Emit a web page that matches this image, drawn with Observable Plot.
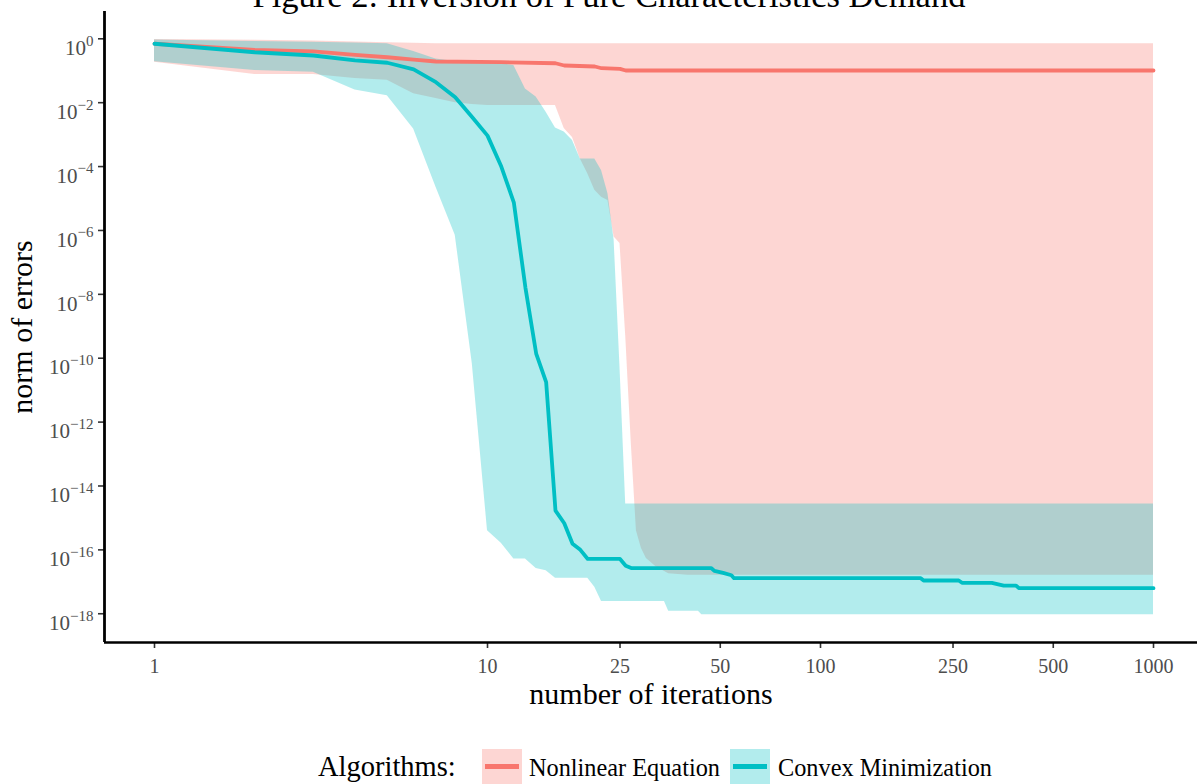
<!DOCTYPE html>
<html><head><meta charset="utf-8">
<script src="https://cdn.jsdelivr.net/npm/d3@7"></script>
<script src="https://cdn.jsdelivr.net/npm/@observablehq/plot@0.6"></script>
<style>
html,body{margin:0;padding:0;background:#fff;overflow:hidden;width:1197px;height:784px;position:relative;}
#title{position:absolute;left:0;top:-21.9px;width:1218px;text-align:center;font-family:"Liberation Serif",serif;font-size:34.5px;line-height:34.5px;white-space:nowrap;color:#000;}
#chart svg{display:block;}
#legend{position:relative;width:1197px;height:44px;font-family:"Liberation Serif",serif;color:#000;}
#legend .t{position:absolute;white-space:nowrap;line-height:1;}
#legend .key{position:absolute;top:9px;width:40px;height:35px;}
#legend .key i{position:absolute;left:3px;right:3px;top:15px;height:5px;display:block;}
</style></head>
<body>
<div id="title">Figure 2: Inversion of Pure Characteristics Demand</div>
<div id="chart"></div>
<div id="legend"></div>
<script>
// ---- data ----
const seriesNames = ["Nonlinear Equation", "Convex Minimization"];
const seriesColors = ["#F8766D", "#00BFC4"];
const legendTitle = "Algorithms:";

// Nonlinear Equation: median line
const nlIter   = [1,2,3,4,5,6,7,11,16,17,21,22,25,26,1000];
const nlMedian = [0.70,0.453,0.407,0.316,0.265,0.224,0.195,0.185,0.172,0.146,0.136,0.120,0.115,0.102,0.102];
// Nonlinear Equation: band
const nlBandIter = [1,2,3,4,5,6,7,8,9,10,16,17,18,19,20,21,22,23,24,25,26,27,28,29,30,32,35,40,1000];
const nlLower = [0.186,0.0759,0.0759,0.0575,0.050,0.019,0.0135,0.010,0.0087,0.0081,0.0081,1.55e-3,8.1e-4,1.74e-4,6.0e-5,1.8e-5,1.1e-5,8.7e-6,6.2e-7,3.9e-7,5.1e-10,2.6e-13,4.0e-16,1.1e-16,5.4e-17,3.0e-17,1.8e-17,1.6e-17,1.6e-17];
const nlUpper = [0.95,0.90,0.85,0.80,0.75,0.72,0.70,0.70,0.70,0.70,0.70,0.70,0.70,0.70,0.70,0.70,0.70,0.70,0.70,0.70,0.70,0.70,0.70,0.70,0.70,0.70,0.70,0.70,0.70];

// Convex Minimization: median line
const cmIter   = [1,2,3,4,5,6,7,8,9,10,11,12,13,14,15,16,17,18,19,20,25,26,27,47,48,51,54,55,200,204,260,266,327,355,386,395,1000];
const cmMedian = [0.70,0.38,0.30,0.21,0.178,0.11,0.044,0.0148,3.5e-3,9.3e-4,1.0e-4,7.4e-6,1.6e-8,1.4e-10,1.8e-11,1.7e-15,6.8e-16,1.55e-16,1.0e-16,5.2e-17,5.2e-17,3.2e-17,2.7e-17,2.7e-17,2.2e-17,1.9e-17,1.6e-17,1.3e-17,1.3e-17,1.1e-17,1.1e-17,9.3e-18,9.3e-18,7.6e-18,7.6e-18,6.3e-18,6.3e-18];
// Convex Minimization: band
const cmBandIter = [1,2,3,4,5,6,7,8,9,10,11,12,13,14,15,16,17,18,19,20,21,22,23,24,25,26,34,35,43,44,1000];
const cmLower = [0.19,0.102,0.089,0.025,0.0166,1.5e-3,2.3e-5,7.1e-7,6.8e-11,4.0e-16,1.6e-16,5.2e-17,5.2e-17,2.6e-17,2.2e-17,1.3e-17,1.3e-17,1.3e-17,1.3e-17,1.3e-17,6.8e-18,2.4e-18,2.4e-18,2.4e-18,2.4e-18,2.4e-18,2.4e-18,1.2e-18,1.2e-18,9.3e-19,9.3e-19];
const cmUpper = [0.92,0.82,0.78,0.74,0.70,0.40,0.234,0.195,0.186,0.174,0.166,0.145,0.027,0.0151,5.0e-3,1.6e-3,1.2e-3,6.6e-4,1.74e-4,1.74e-4,1.74e-4,7.6e-5,1.4e-5,5.0e-7,5.0e-11,2.75e-15,2.75e-15,2.75e-15,2.75e-15,2.75e-15,2.75e-15];

// axes
const xTicks = [1,10,25,50,100,250,500,1000];
const yTicks = [1e0,1e-2,1e-4,1e-6,1e-8,1e-10,1e-12,1e-14,1e-16,1e-18];
const xLabel = "number of iterations";
const yLabel = "norm of errors";

// ---- build tables ----
const nlLine = nlIter.map((n,i)=>({n, v:nlMedian[i]}));
const cmLine = cmIter.map((n,i)=>({n, v:cmMedian[i]}));
const nlBand = nlBandIter.map((n,i)=>({n, lo:nlLower[i], hi:nlUpper[i]}));
const cmBand = cmBandIter.map((n,i)=>({n, lo:cmLower[i], hi:cmUpper[i]}));

const xDomain = [10**-0.15015, 10**3.1321];
const yDomain = [10**-18.90, 10**0.855];

const svg = Plot.plot({
  width: 1197, height: 740,
  marginLeft: 104, marginRight: 0, marginTop: 11, marginBottom: 98,
  style: {fontFamily: "'Liberation Serif', serif", background: "transparent", overflow: "visible"},
  x: {type: "log", domain: xDomain},
  y: {type: "log", domain: yDomain},
  marks: [
    Plot.areaY(nlBand, {x:"n", y1:"lo", y2:"hi", fill: seriesColors[0], fillOpacity: 0.3}),
    Plot.areaY(cmBand, {x:"n", y1:"lo", y2:"hi", fill: seriesColors[1], fillOpacity: 0.3}),
    Plot.line(nlLine, {x:"n", y:"v", stroke: seriesColors[0], strokeWidth: 3.8}),
    Plot.line(cmLine, {x:"n", y:"v", stroke: seriesColors[1], strokeWidth: 3.8}),
    Plot.axisX({ticks: xTicks, tickFormat: () => "", tickSize: 6, tickPadding: 10, stroke: "#333", strokeWidth: 1.6, label: null}),
    Plot.text(xTicks, {x: d => d, text: d => String(d), frameAnchor: "bottom", lineAnchor: "top", textAnchor: "middle", dy: 16, fontSize: 20, fill: "#4D4D4D"}),
    Plot.axisY({ticks: yTicks, tickFormat: d => "10^" + Math.round(Math.log10(d)), tickSize: 6, tickPadding: 5, fontSize: 21, stroke: "#333", strokeWidth: 1.6, fill: "#4D4D4D", label: null}),
    Plot.ruleY([yDomain[0]], {stroke: "#000", strokeWidth: 2.6}),
    Plot.ruleX([xDomain[0]], {stroke: "#000", strokeWidth: 2.8}),
    Plot.text([xLabel], {frameAnchor: "bottom", lineAnchor: "middle", textAnchor: "middle", dy: 51.4, fontSize: 30, fill: "#000"}),
    Plot.text([yLabel], {frameAnchor: "left", lineAnchor: "middle", textAnchor: "middle", rotate: -90, dx: -82.6, fontSize: 30, fill: "#000"})
  ]
});

d3.select(svg).selectAll('g[aria-label="y-axis tick label"] text').each(function(){
  const m = this.textContent.match(/^10\^(-?\d+)$/);
  if (!m) return;
  const sel = d3.select(this);
  sel.text(null);
  sel.attr("dy", "0.45em");
  sel.append("tspan").text("10");
  sel.append("tspan").attr("dy", "-9.3").attr("font-size", "15px").text(m[1].replace("-", "\u2212"));
});

document.getElementById("chart").appendChild(svg);

// ---- legend ----
const lg = d3.select("#legend");
lg.append("div").attr("class","t").style("left","318px").style("top","12.8px").style("font-size","28.5px").text(legendTitle);
const keyLeft = [482, 729.5];
const textLeft = [529, 778];
seriesNames.forEach((name, i) => {
  const k = lg.append("div").attr("class","key").style("left", keyLeft[i]+"px")
    .style("background", d3.color(seriesColors[i]).copy({opacity:0.3}).formatRgb());
  k.append("i").style("background", seriesColors[i]);
  lg.append("div").attr("class","t").style("left", textLeft[i]+"px").style("top","16.4px").style("font-size","24.3px").text(name);
});
</script>
</body></html>
